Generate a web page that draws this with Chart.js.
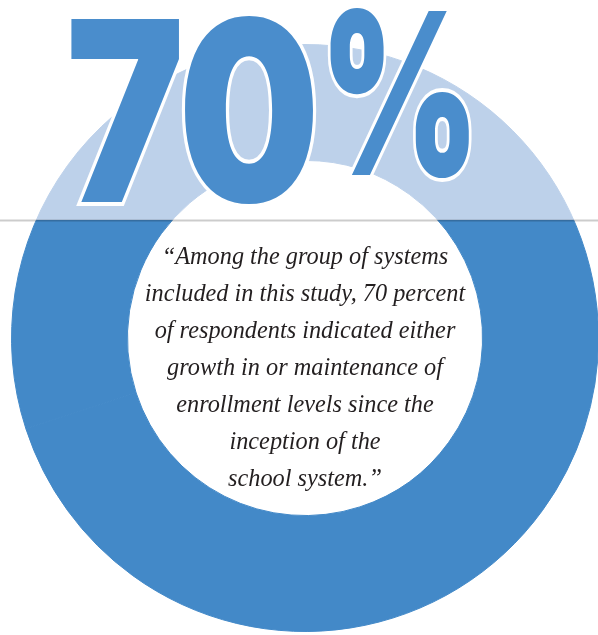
<!DOCTYPE html>
<html>
<head>
<meta charset="utf-8">
<script src="https://cdn.jsdelivr.net/npm/chart.js"></script>
<style>
  html, body { margin: 0; padding: 0; background: #fff; overflow: hidden; }
  #wrap { position: relative; width: 598px; height: 635px; overflow: hidden; }
  #box { position: absolute; left: 0; top: 0; width: 610px; height: 635px; }
  #big {
    position: absolute; left: 66px; top: -15px;
    font-family: Inter, Lato, "DejaVu Sans", sans-serif; font-weight: 900;
    font-size: 252px; line-height: 1; color: #4a8dcc; white-space: nowrap;
    transform: scaleX(0.79); transform-origin: 0 0; letter-spacing: -4px;
    -webkit-text-stroke: 8px #fff; paint-order: stroke fill;
  }
  #big span {
    display: inline-block; position: relative; top: -27px; margin-left: 4px;
    font-size: 226px; transform: scaleX(0.86); transform-origin: 0 0;
  }
  #quote {
    position: absolute; left: 0; top: 237px; width: 610px; text-align: center;
    font-family: "Liberation Serif", "DejaVu Serif", serif; font-style: italic;
    font-size: 24.3px; line-height: 37px; color: #231f20;
  }
</style>
</head>
<body>
<div id="wrap">
  <div id="box"><canvas id="ringChart"></canvas></div>
  <div id="big">70<span>%</span></div>
  <div id="quote">“Among the group of systems<br>included in this study, 70 percent<br>of respondents indicated either<br>growth in or maintenance of<br>enrollment levels since the<br>inception of the<br>school system.”</div>
</div>
<script>
// ring data: share of respondents
const labels = ["Growth or maintenance", "Other"];
const values = [70, 30];
const colors = ["#4389c8", "#bdd1ea"];

// level of the split, read from the data (light part sits on top)
function splitY(chart) {
    const a = chart.chartArea;
    const r = Math.min(a.right - a.left, a.bottom - a.top) / 2;
    const cy = (a.top + a.bottom) / 2;
    const total = values.reduce((s, v) => s + v, 0);
    return cy - r + (values[1] / total) * 2 * r;
}

function ringFill(context) {
    const chart = context.chart;
    if (!chart.chartArea) return colors[0];
    const a = chart.chartArea;
    const y = splitY(chart);
    const g = chart.ctx.createLinearGradient(0, a.top, 0, a.bottom);
    const t = (y - a.top) / (a.bottom - a.top);
    g.addColorStop(0, colors[1]);
    g.addColorStop(t, colors[1]);
    g.addColorStop(t, colors[0]);
    g.addColorStop(1, colors[0]);
    return g;
}

const splitLine = {
    id: "splitLine",
    afterDatasetsDraw(chart) {
        const y = splitY(chart);
        const ctx = chart.ctx;
        ctx.save();
        ctx.strokeStyle = "rgba(0,0,0,0.2)";
        ctx.lineWidth = 2;
        ctx.beginPath();
        ctx.moveTo(0, y);
        ctx.lineTo(chart.width, y);
        ctx.stroke();
        ctx.restore();
    }
};

new Chart(document.getElementById("ringChart"), {
    type: "doughnut",
    data: {
        labels: labels,
        datasets: [{
            data: values,
            backgroundColor: ringFill,
            borderColor: ringFill,
            borderWidth: 1
        }]
    },
    options: {
        responsive: true,
        maintainAspectRatio: false,
        animation: false,
        cutout: "60.5%",
        layout: { padding: { left: 11, right: 11, top: 44, bottom: 3 } },
        plugins: {
            legend: { display: false },
            tooltip: { enabled: false }
        }
    },
    plugins: [splitLine]
});
</script>
</body>
</html>
